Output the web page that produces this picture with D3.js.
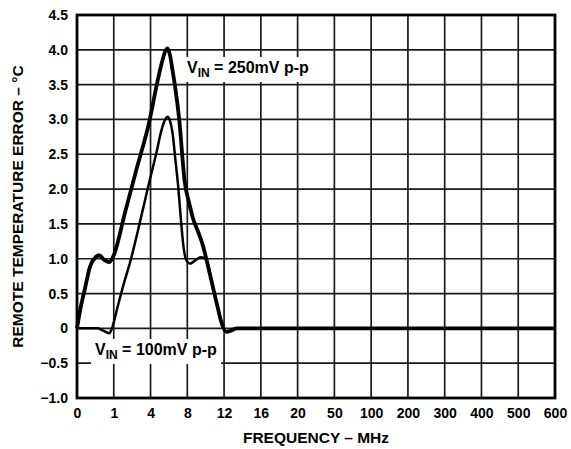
<!DOCTYPE html>
<html>
<head>
<meta charset="utf-8">
<script src="https://cdn.jsdelivr.net/npm/d3@7"></script>
<style>
  body { margin: 0; background: #fff; }
  svg text { font-family: "Liberation Sans", Arial, sans-serif; font-weight: bold; fill: #000; }
</style>
</head>
<body>
<div id="chart"></div>
<script>

// x axis is categorical: tick labels are evenly spaced, positions are in "tick index" units
var freqLabels = ["0", "1", "4", "8", "12", "16", "20", "50", "100", "200", "300", "400", "500", "600"];
var yTicks = [-1.0, -0.5, 0, 0.5, 1.0, 1.5, 2.0, 2.5, 3.0, 3.5, 4.0, 4.5];

// VIN = 250mV p-p  (position on axis, error in degC)
var pos250 = [0, 0.1, 0.22, 0.35, 0.5, 0.6, 0.75, 0.88, 1.0, 1.3, 1.6, 1.98, 2.17, 2.3, 2.4, 2.46, 2.53, 2.6, 2.66, 2.78, 2.93, 3.05, 3.16, 3.3, 3.43, 3.52, 3.65, 3.8, 3.95, 4.07, 4.2, 4.35, 6, 9, 13];
var err250 = [0, 0.3, 0.58, 0.88, 1.02, 1.05, 0.98, 0.95, 1.05, 1.65, 2.25, 3.0, 3.5, 3.8, 3.98, 4.02, 3.92, 3.7, 3.5, 3.0, 2.1, 1.8, 1.57, 1.38, 1.18, 0.99, 0.7, 0.36, 0.05, -0.05, -0.03, 0, 0, 0, 0];

// VIN = 100mV p-p
var pos100 = [0, 0.55, 0.7, 0.88, 0.95, 1.1, 1.25, 1.47, 1.7, 1.92, 2.15, 2.3, 2.4, 2.46, 2.53, 2.6, 2.68, 2.75, 2.82, 2.89, 2.97, 3.08, 3.2, 3.37, 3.52, 3.65, 3.8, 3.95, 4.07, 4.2, 4.35, 6, 9, 13];
var err100 = [0, 0, -0.03, -0.07, 0, 0.3, 0.6, 1.0, 1.5, 2.0, 2.5, 2.85, 3.0, 3.04, 2.98, 2.8, 2.4, 2.05, 1.6, 1.2, 0.98, 0.93, 0.97, 1.02, 0.99, 0.7, 0.36, 0.05, -0.05, -0.03, 0, 0, 0, 0];

var width = 571, height = 449;
var margin = {top: 15, right: 16, bottom: 51, left: 77};
var w = width - margin.left - margin.right;
var h = height - margin.top - margin.bottom;

var svg = d3.select("#chart").append("svg")
  .attr("width", width).attr("height", height);

var g = svg.append("g")
  .attr("transform", "translate(" + margin.left + "," + margin.top + ")");

var x = d3.scaleLinear().domain([0, freqLabels.length - 1]).range([0, w]);
var y = d3.scaleLinear().domain([-1.0, 4.5]).range([h, 0]);

// grid
g.append("g")
  .attr("class", "grid")
  .selectAll("line.v")
  .data(d3.range(1, freqLabels.length - 1))
  .enter().append("line")
  .attr("x1", function(d){ return x(d); }).attr("x2", function(d){ return x(d); })
  .attr("y1", 0).attr("y2", h)
  .attr("stroke", "#1a1a1a").attr("stroke-width", 1.7);

g.append("g")
  .attr("class", "grid")
  .selectAll("line.h")
  .data(yTicks.slice(1, -1))
  .enter().append("line")
  .attr("x1", 0).attr("x2", w)
  .attr("y1", function(d){ return y(d); }).attr("y2", function(d){ return y(d); })
  .attr("stroke", "#1a1a1a").attr("stroke-width", 1.7);

// VIN labels with white box covering the grid
function vinLabel(px, py, val) {
  var lg = g.append("g");
  var box = lg.append("rect").attr("fill", "#fff");
  var t = lg.append("text").attr("x", px).attr("y", py).style("font-size", "16px");
  t.append("tspan").text("V");
  t.append("tspan").attr("dy", 4).style("font-size", "12px").text("IN");
  t.append("tspan").attr("dy", -4).text(" = " + val + "mV p-p");
  var bb = t.node().getBBox();
  box.attr("x", bb.x - 4).attr("y", bb.y - 2)
    .attr("width", bb.width + 8).attr("height", bb.height + 4);
  return lg;
}

// axes
var xAxis = d3.axisBottom(x)
  .tickValues(d3.range(freqLabels.length))
  .tickFormat(function(d){ return freqLabels[d]; })
  .tickSize(0).tickPadding(10);

var yAxis = d3.axisLeft(y)
  .tickValues(yTicks)
  .tickFormat(function(d){ return d === 0 ? "0" : (d < 0 ? "\u2212" + Math.abs(d).toFixed(1) : d.toFixed(1)); })
  .tickSize(0).tickPadding(9);

var gx = g.append("g").attr("transform", "translate(0," + h + ")").call(xAxis);
var gy = g.append("g").call(yAxis);
[gx, gy].forEach(function(a){
  a.select(".domain").remove();
  a.selectAll("text").style("font-size", "14px").style("font-family", null);
});

// curves
var line = d3.line()
  .x(function(d){ return x(d[0]); })
  .y(function(d){ return y(d[1]); })
  .curve(d3.curveMonotoneX);

g.append("path")
  .datum(d3.zip(pos100, err100))
  .attr("fill", "none").attr("stroke", "#000").attr("stroke-width", 2.5)
  .attr("stroke-linejoin", "round")
  .attr("d", line);

g.append("path")
  .datum(d3.zip(pos250, err250))
  .attr("fill", "none").attr("stroke", "#000").attr("stroke-width", 3.8)
  .attr("stroke-linejoin", "round")
  .attr("d", line);

vinLabel(110, 58, "250");
vinLabel(18, 340, "100");

// frame
g.append("rect")
  .attr("width", w).attr("height", h)
  .attr("fill", "none").attr("stroke", "#000").attr("stroke-width", 2.8);

// axis titles
svg.append("text")
  .attr("x", margin.left + w / 2).attr("y", 443)
  .attr("text-anchor", "middle").style("font-size", "15.5px")
  .text("FREQUENCY \u2013 MHz");

svg.append("text")
  .attr("transform", "translate(23," + (margin.top + h / 2) + ") rotate(-90)")
  .attr("text-anchor", "middle").style("font-size", "15.5px")
  .text("REMOTE TEMPERATURE ERROR \u2013 \u00B0C");

</script>
</body>
</html>
